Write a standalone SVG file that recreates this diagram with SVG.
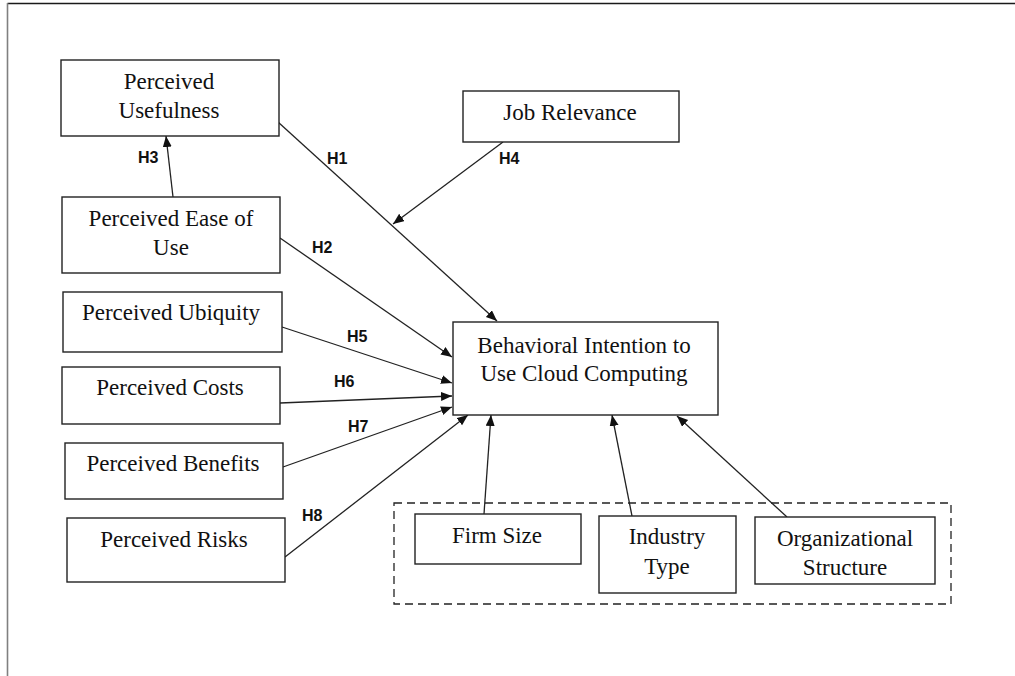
<svg xmlns="http://www.w3.org/2000/svg" width="1015" height="676" viewBox="0 0 1015 676">
<defs>
<marker id="ah" markerUnits="userSpaceOnUse" markerWidth="12" markerHeight="10" refX="11" refY="4.5" orient="auto">
<path d="M0,0 L11,4.5 L0,9 z" fill="#111"/>
</marker>
<style>
.box{fill:#fff;stroke:#222;stroke-width:1.4}
.t{font-family:"Liberation Serif","Times New Roman",serif;font-size:23px;fill:#111;text-anchor:middle}
.h{font-family:"Liberation Sans",Arial,sans-serif;font-size:16px;font-weight:bold;fill:#111}
.c{stroke:#222;stroke-width:1.3;fill:none;marker-end:url(#ah)}
</style>
</defs>
<rect x="0" y="0" width="1015" height="676" fill="#fff"/>
<line x1="7.5" y1="3.5" x2="1015" y2="3.5" stroke="#1a1a1a" stroke-width="1.4"/>
<line x1="7.5" y1="3" x2="7.5" y2="676" stroke="#808080" stroke-width="1.6"/>
<rect x="394" y="503" width="557" height="101" fill="none" stroke="#222" stroke-width="1.3" stroke-dasharray="8,5"/>
<g id="connectors">
<path class="c" d="M278,122 L497,321"/>
<path class="c" d="M280,238 L452,357"/>
<path class="c" d="M173,197 L166,136"/>
<path class="c" d="M503,142 L393,224"/>
<path class="c" d="M282,327 L452,383"/>
<path class="c" d="M280,403 L452,396"/>
<path class="c" d="M283,467 L452,407"/>
<path class="c" d="M285,557 L468,415"/>
<path class="c" d="M484,514 L491,415"/>
<path class="c" d="M632,516 L612,415"/>
<path class="c" d="M787,517 L677,416"/>
</g>
<g id="labels">
<text class="h" x="327" y="164">H1</text>
<text class="h" x="312" y="253">H2</text>
<text class="h" x="138" y="163">H3</text>
<text class="h" x="499" y="164">H4</text>
<text class="h" x="347" y="342">H5</text>
<text class="h" x="334" y="387">H6</text>
<text class="h" x="348" y="432">H7</text>
<text class="h" x="302" y="521">H8</text>
</g>
<g id="n-pu"><rect class="box" x="61" y="60" width="218" height="76"/><text class="t" x="169" y="89">Perceived</text><text class="t" x="169" y="118">Usefulness</text></g>
<g id="n-peou"><rect class="box" x="62" y="197" width="218" height="76"/><text class="t" x="171" y="226">Perceived Ease of</text><text class="t" x="171" y="255">Use</text></g>
<g id="n-pub"><rect class="box" x="63" y="292" width="219" height="60"/><text class="t" x="171" y="320">Perceived Ubiquity</text></g>
<g id="n-pc"><rect class="box" x="62" y="367" width="218" height="57"/><text class="t" x="170" y="395">Perceived Costs</text></g>
<g id="n-pb"><rect class="box" x="65" y="443" width="218" height="56"/><text class="t" x="173" y="471">Perceived Benefits</text></g>
<g id="n-pr"><rect class="box" x="67" y="518" width="218" height="64"/><text class="t" x="174" y="547">Perceived Risks</text></g>
<g id="n-jr"><rect class="box" x="463" y="91" width="216" height="51"/><text class="t" x="570" y="120">Job Relevance</text></g>
<g id="n-bi"><rect class="box" x="453" y="322" width="265" height="93"/><text class="t" x="584" y="353">Behavioral Intention to</text><text class="t" x="584" y="381">Use Cloud Computing</text></g>
<g id="n-fs"><rect class="box" x="415" y="514" width="166" height="50"/><text class="t" x="497" y="543">Firm Size</text></g>
<g id="n-it"><rect class="box" x="599" y="516" width="137" height="77"/><text class="t" x="667" y="544">Industry</text><text class="t" x="667" y="574">Type</text></g>
<g id="n-os"><rect class="box" x="755" y="517" width="180" height="67"/><text class="t" x="845" y="546">Organizational</text><text class="t" x="845" y="575">Structure</text></g>
</svg>
